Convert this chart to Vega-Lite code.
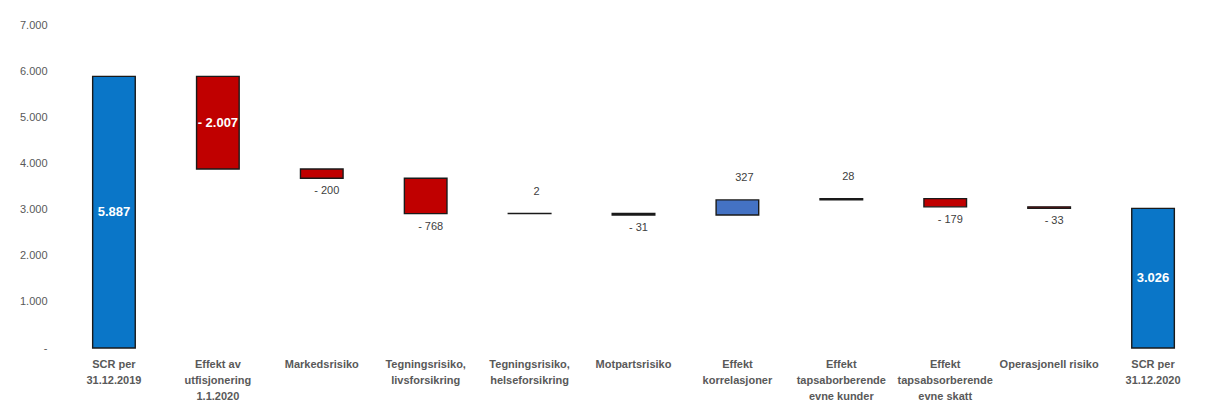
{
  "$schema": "https://vega.github.io/schema/vega-lite/v6.json",
  "width": 1143,
  "height": 323,
  "autosize": {"type": "none"},
  "padding": {"left": 62, "top": 25, "right": 1, "bottom": 57},
  "background": "white",
  "data": {
    "values": [
      {"step": "SCR per|31.12.2019", "start": 0, "end": 5887, "kind": "total", "label": "5.887"},
      {"step": "Effekt av|utfisjonering|1.1.2020", "start": 5887, "end": 3880, "kind": "decrease", "label": "- 2.007"},
      {"step": "Markedsrisiko", "start": 3880, "end": 3680, "kind": "decrease", "label": "- 200"},
      {"step": "Tegningsrisiko,|livsforsikring", "start": 3680, "end": 2912, "kind": "decrease", "label": "- 768"},
      {"step": "Tegningsrisiko,|helseforsikring", "start": 2912, "end": 2914, "kind": "increase", "label": "2"},
      {"step": "Motpartsrisiko", "start": 2914, "end": 2883, "kind": "decrease", "label": "- 31"},
      {"step": "Effekt|korrelasjoner", "start": 2883, "end": 3210, "kind": "increase", "label": "327"},
      {"step": "Effekt|tapsaborberende|evne kunder", "start": 3210, "end": 3238, "kind": "increase", "label": "28"},
      {"step": "Effekt|tapsabsorberende|evne skatt", "start": 3238, "end": 3059, "kind": "decrease", "label": "- 179"},
      {"step": "Operasjonell risiko", "start": 3059, "end": 3026, "kind": "decrease", "label": "- 33"},
      {"step": "SCR per|31.12.2020", "start": 0, "end": 3026, "kind": "total", "label": "3.026"}
    ]
  },
  "encoding": {
    "x": {
      "field": "step",
      "type": "nominal",
      "sort": null,
      "scale": {"paddingInner": 0.59, "paddingOuter": 0.295},
      "axis": {
        "title": null,
        "domain": false,
        "ticks": false,
        "labelAngle": 0,
        "labelFontWeight": "bold",
        "labelFontSize": 11,
        "labelColor": "#595959",
        "labelLineHeight": 16,
        "labelPadding": 10,
        "labelLimit": 0,
        "labelOverlap": false,
        "labelExpr": "split(datum.label, '|')"
      }
    }
  },
  "layer": [
    {
      "mark": {"type": "bar", "stroke": "#1a1a1a", "strokeWidth": 1.4},
      "encoding": {
        "y": {
          "field": "start",
          "type": "quantitative",
          "scale": {"domain": [0, 7000]},
          "axis": {
            "title": null,
            "domain": false,
            "ticks": false,
            "grid": false,
            "values": [0, 1000, 2000, 3000, 4000, 5000, 6000, 7000],
            "labelPadding": 15,
            "labelFontSize": 11,
            "labelColor": "#595959",
            "labelExpr": "datum.value == 0 ? '-' : replace(format(datum.value, ','), ',', '.')"
          }
        },
        "y2": {"field": "end"},
        "color": {
          "field": "kind",
          "type": "nominal",
          "scale": {"domain": ["total", "decrease", "increase"], "range": ["#0A76C8", "#C00000", "#4472C4"]},
          "legend": null
        }
      }
    },
    {
      "transform": [
        {"filter": "abs(datum.end - datum.start) > 1000"},
        {"calculate": "(datum.start + datum.end) / 2", "as": "mid"}
      ],
      "mark": {"type": "text", "color": "white", "fontWeight": "bold", "fontSize": 13, "baseline": "middle"},
      "encoding": {
        "y": {"field": "mid", "type": "quantitative"},
        "text": {"field": "label"}
      }
    },
    {
      "transform": [{"filter": "abs(datum.end - datum.start) <= 1000 && datum.end < datum.start"}],
      "mark": {"type": "text", "color": "#404040", "fontSize": 11, "baseline": "middle", "dx": 5, "dy": 13},
      "encoding": {
        "y": {"field": "end", "type": "quantitative"},
        "text": {"field": "label"}
      }
    },
    {
      "transform": [{"filter": "abs(datum.end - datum.start) <= 1000 && datum.end > datum.start"}],
      "mark": {"type": "text", "color": "#404040", "fontSize": 11, "baseline": "middle", "dx": 7, "dy": -22},
      "encoding": {
        "y": {"field": "end", "type": "quantitative"},
        "text": {"field": "label"}
      }
    }
  ],
  "config": {
    "font": "Liberation Sans",
    "view": {"stroke": null}
  }
}
